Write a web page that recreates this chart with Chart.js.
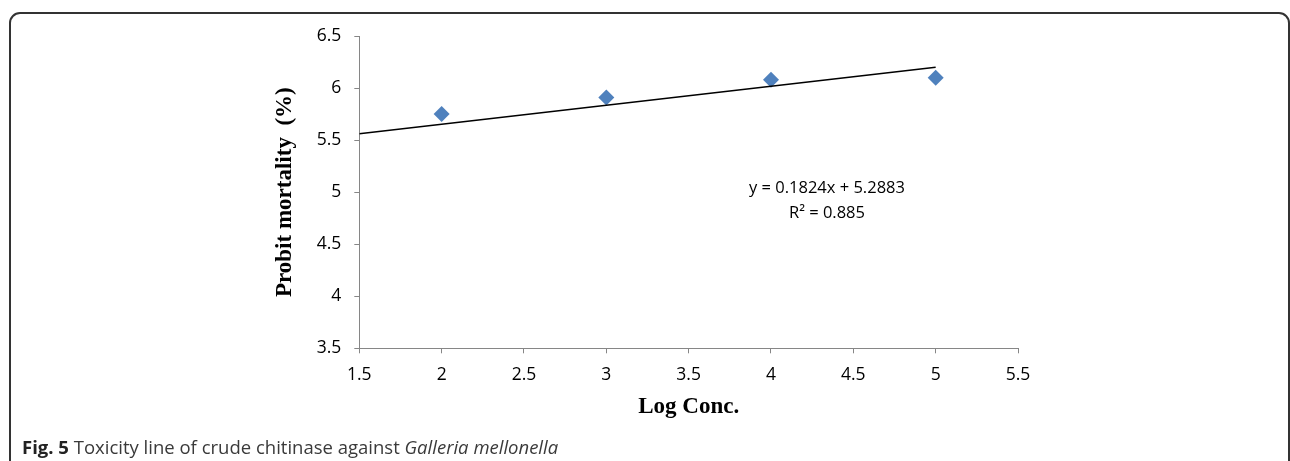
<!DOCTYPE html>
<html>
<head>
<meta charset="utf-8">
<script src="https://cdn.jsdelivr.net/npm/chart.js@4.4.1/dist/chart.umd.min.js"></script>
<style>
  html, body { margin: 0; padding: 0; background: #ffffff; }
  body { width: 1290px; height: 461px; position: relative; overflow: hidden; }
  #frame { position: absolute; left: 9px; top: 12px; width: 1281px; height: 520px;
           border: 2px solid #333333; border-radius: 11px; box-sizing: border-box; }
  #wrap { position: absolute; left: 0; top: 0; width: 1290px; height: 461px; }
  #caption { position: absolute; left: 22px; top: 434px; font-family: "Open Sans", sans-serif;
             font-size: 18.5px; line-height: 25px; color: #3a3a3a; white-space: nowrap; }
  #caption b { font-weight: 700; color: #222; }
</style>
</head>
<body>
<div id="frame"></div>
<div id="wrap"><canvas id="c" width="1290" height="461"></canvas></div>
<div id="caption"><b>Fig. 5</b> Toxicity line of crude chitinase against <i>Galleria mellonella</i></div>
<script>
// ---- data ----
const logConc = [2, 3, 4, 5];
const probitMortality = [5.75, 5.91, 6.08, 6.10];
const trendX = [1.5, 5];
const trendY = [5.56, 6.20];
const xTicks = [1.5, 2, 2.5, 3, 3.5, 4, 4.5, 5, 5.5];
const yTicks = [3.5, 4, 4.5, 5, 5.5, 6, 6.5];
const equationLines = ['y = 0.1824x + 5.2883', 'R\u00B2 = 0.885'];
const xTitle = 'Log Conc.';
const yTitle = 'Probit mortality  (%)';

const annotAnchor = { x: 4.34, y: [5.04, 4.80] };

const annotationPlugin = {
  id: 'equation',
  afterDatasetsDraw(chart) {
    const { ctx, scales } = chart;
    ctx.save();
    ctx.font = '16.5px "Open Sans", sans-serif';
    ctx.fillStyle = '#000000';
    ctx.textAlign = 'center';
    ctx.textBaseline = 'middle';
    equationLines.forEach((t, i) => {
      ctx.fillText(t, scales.x.getPixelForValue(annotAnchor.x), scales.y.getPixelForValue(annotAnchor.y[i]));
    });
    ctx.restore();
  }
};

const axisColor = '#868686';
const tickFont = { family: '"Open Sans", sans-serif', size: 17.5 };
const titleFont = { family: '"Liberation Serif", "Times New Roman", serif', size: 23, weight: 'bold' };

new Chart(document.getElementById('c'), {
  type: 'scatter',
  data: {
    datasets: [
      {
        label: 'Probit mortality',
        data: logConc.map((x, i) => ({ x, y: probitMortality[i] })),
        pointStyle: 'rectRot',
        pointRadius: 8,
        pointHoverRadius: 8,
        backgroundColor: '#4F81BD',
        borderColor: '#4F81BD',
        borderWidth: 0,
        order: 2
      },
      {
        label: 'Linear trend',
        type: 'line',
        data: trendX.map((x, i) => ({ x, y: trendY[i] })),
        borderColor: '#000000',
        borderWidth: 1.5,
        pointRadius: 0,
        fill: false,
        order: 1
      }
    ]
  },
  options: {
    responsive: false,
    animation: false,
    layout: { padding: { left: 271, right: 272, top: 36, bottom: 40 } },
    plugins: { legend: { display: false }, tooltip: { enabled: false } },
    scales: {
      x: {
        type: 'linear',
        min: 1.5, max: 5.5,
        afterBuildTicks: (s) => { s.ticks = xTicks.map(v => ({ value: v })); },
        afterFit: (s) => { s.height = 72.7; },
        ticks: { font: tickFont, color: '#000000', padding: 11, callback: (v) => String(v) },
        grid: { drawOnChartArea: false, drawTicks: true, tickLength: 5, color: axisColor, lineWidth: 1 },
        border: { display: true, color: axisColor, width: 1 },
        title: { display: true, text: xTitle, font: titleFont, color: '#000000', padding: 0 }
      },
      y: {
        type: 'linear',
        min: 3.5, max: 6.5,
        afterBuildTicks: (s) => { s.ticks = yTicks.map(v => ({ value: v })); },
        afterFit: (s) => { s.width = 88.3; },
        ticks: { font: tickFont, color: '#000000', padding: 13, callback: (v) => String(v) },
        grid: { drawOnChartArea: false, drawTicks: true, tickLength: 5, color: axisColor, lineWidth: 1 },
        border: { display: true, color: axisColor, width: 1 },
        title: { display: true, text: yTitle, font: titleFont, color: '#000000', padding: 0 }
      }
    }
  },
  plugins: [annotationPlugin]
});
</script>
</body>
</html>
